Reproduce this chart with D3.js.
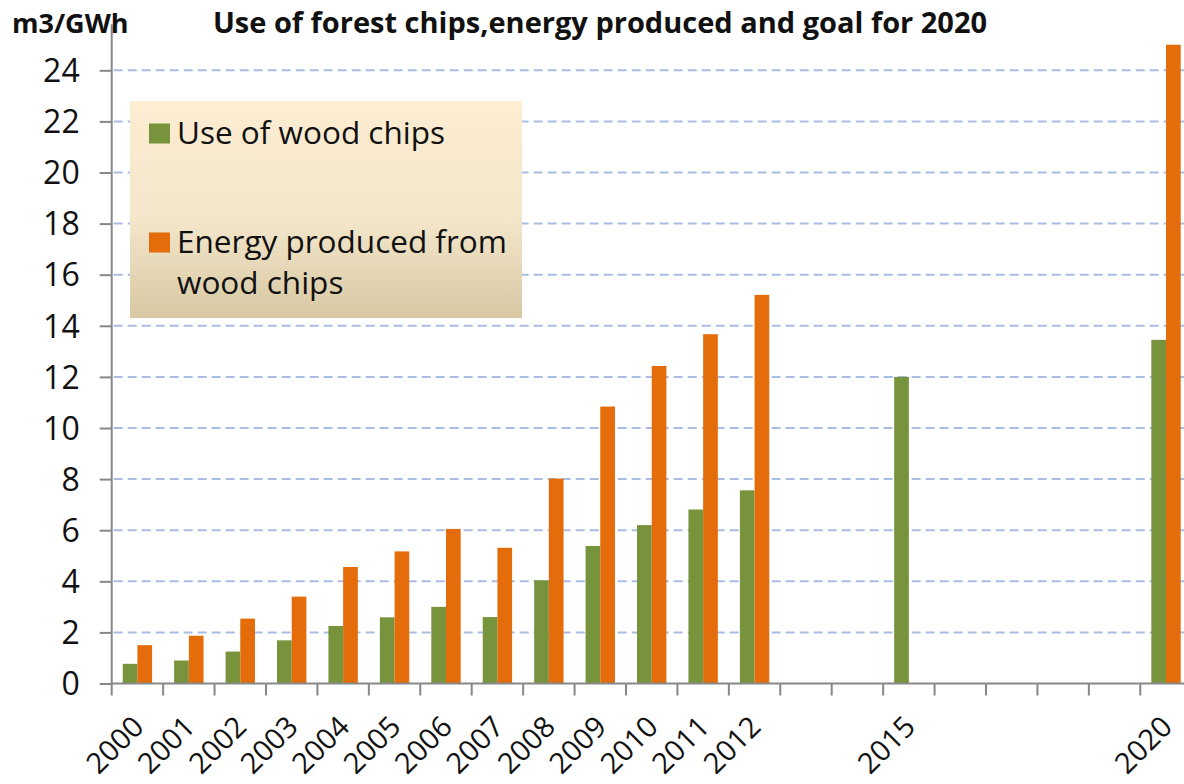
<!DOCTYPE html>
<html>
<head>
<meta charset="utf-8">
<script src="https://cdn.jsdelivr.net/npm/d3@7"></script>
<style>
  html, body { margin: 0; padding: 0; background: #ffffff; }
  svg { display: block; }
  text { font-family: "Open Sans", "Noto Sans", sans-serif; fill: #111; }
</style>
</head>
<body>
<svg id="chart" width="1184" height="784"></svg>
<script>
// Years on the category axis (one slot per year, labels only where data exists)
const years = ["2000","2001","2002","2003","2004","2005","2006","2007","2008","2009","2010",
               "2011","2012","2013","2014","2015","2016","2017","2018","2019","2020"];
const labelledYears = ["2000","2001","2002","2003","2004","2005","2006","2007","2008","2009",
                       "2010","2011","2012","2015","2020"];

// m3/GWh values per year (null = no bar)
const woodChipsUse = [0.77, 0.9, 1.25, 1.69, 2.25, 2.59, 3.0, 2.6, 4.04, 5.38, 6.2,
                      6.81, 7.56, null, null, 12.0, null, null, null, null, 13.45];
const energyProduced = [1.5, 1.87, 2.54, 3.4, 4.56, 5.17, 6.05, 5.31, 8.02, 10.84, 12.43,
                        13.67, 15.21, null, null, null, null, null, null, null, 25];

const seriesNames = ["Use of wood chips", "Energy produced from wood chips"];
const seriesColors = ["#77933C", "#E46C0A"];
const yTicks = [0, 2, 4, 6, 8, 10, 12, 14, 16, 18, 20, 22, 24];

const svg = d3.select("#chart");

const x0 = 111.7, x1 = 111.7 + 21 * 51.43;
const yBottom = 683.5, unit = 25.55;

const x = d3.scaleBand().domain(years).range([x0, x1]).padding(0);
const xSeries = d3.scaleBand().domain([0, 1]).range([0, x.step()])
  .paddingInner(0).paddingOuter(0.75);
const y = d3.scaleLinear().domain([0, 25.6]).range([yBottom, yBottom - 25.6 * unit]);

// Dashed horizontal gridlines
svg.append("g").selectAll("line")
  .data(yTicks.filter(d => d > 0))
  .join("line")
  .attr("x1", x0 + 2).attr("x2", 1184)
  .attr("y1", d => y(d)).attr("y2", d => y(d))
  .attr("stroke", "#a9bde3")
  .attr("stroke-width", 2)
  .attr("stroke-dasharray", "9,5");

// Bars
const rows = years.map((yr, i) => ({ yr, vals: [woodChipsUse[i], energyProduced[i]] }));
const groups = svg.append("g").selectAll("g")
  .data(rows).join("g")
  .attr("transform", d => `translate(${x(d.yr)},0)`);
groups.selectAll("rect")
  .data(d => d.vals.map((v, k) => ({ v, k })).filter(e => e.v !== null))
  .join("rect")
  .attr("x", e => xSeries(e.k))
  .attr("width", xSeries.bandwidth())
  .attr("y", e => y(e.v))
  .attr("height", e => y(0) - y(e.v))
  .attr("fill", e => seriesColors[e.k]);

// Y axis
const yAxis = d3.axisLeft(y).tickValues(yTicks).tickSize(12).tickPadding(20)
  .tickFormat(d3.format("d"));
const gy = svg.append("g").attr("transform", `translate(${x0},0)`).call(yAxis);
gy.select(".domain").attr("stroke", "#878787").attr("stroke-width", 2)
  .attr("d", `M0,${y(0)}V${y(0) - 25.8 * unit}`);
gy.selectAll(".tick line").attr("stroke", "#878787").attr("stroke-width", 2);
gy.selectAll(".tick text").style("font-size", "32px").style("font-family", "'Open Sans'")
  .attr("fill", "#111").attr("dy", "0.35em");

// X axis: baseline with ticks on category boundaries
const gx = svg.append("g");
gx.append("line")
  .attr("x1", x0).attr("x2", x1).attr("y1", y(0)).attr("y2", y(0))
  .attr("stroke", "#878787").attr("stroke-width", 2);
gx.selectAll("line.tk")
  .data(years)
  .join("line").attr("class", "tk")
  .attr("x1", d => x(d)).attr("x2", d => x(d))
  .attr("y1", y(0)).attr("y2", y(0) + 12)
  .attr("stroke", "#878787").attr("stroke-width", 2);

// Rotated year labels
gx.selectAll("text.yl")
  .data(labelledYears)
  .join("text").attr("class", "yl")
  .attr("text-anchor", "end")
  .style("font-size", "29px")
  .attr("transform", d => `translate(${x(d) + x.bandwidth() / 2 + 8},${y(0) + 45}) rotate(-45)`)
  .text(d => d);

// Titles
svg.append("text").attr("x", 12).attr("y", 33)
  .style("font-size", "27px").style("font-weight", "bold").text("m3/GWh");
svg.append("text").attr("x", 600).attr("y", 33).attr("text-anchor", "middle")
  .style("font-size", "29px").style("font-weight", "bold")
  .text("Use of forest chips,energy produced and goal for 2020");

// Legend with vertical gradient background
const defs = svg.append("defs");
const grad = defs.append("linearGradient").attr("id", "legendFill")
  .attr("x1", 0).attr("y1", 0).attr("x2", 0).attr("y2", 1);
grad.append("stop").attr("offset", "0%").attr("stop-color", "#FDEDD2");
grad.append("stop").attr("offset", "55%").attr("stop-color", "#F3E6CA");
grad.append("stop").attr("offset", "100%").attr("stop-color", "#D7C8A3");

const legend = svg.append("g");
legend.append("rect").attr("x", 130).attr("y", 101).attr("width", 392).attr("height", 217)
  .attr("fill", "url(#legendFill)");
const legendRows = [
  { lines: ["Use of wood chips"], sq: 123.5, base: 143.5 },
  { lines: ["Energy produced from", "wood chips"], sq: 232.5, base: 253 }
];
legendRows.forEach((r, i) => {
  legend.append("rect").attr("x", 149).attr("y", r.sq).attr("width", 21).attr("height", 20)
    .attr("fill", seriesColors[i]);
  r.lines.forEach((ln, j) => {
    legend.append("text").attr("x", 177).attr("y", r.base + j * 40.5)
      .style("font-size", "31.5px").text(ln);
  });
});
</script>
</body>
</html>
